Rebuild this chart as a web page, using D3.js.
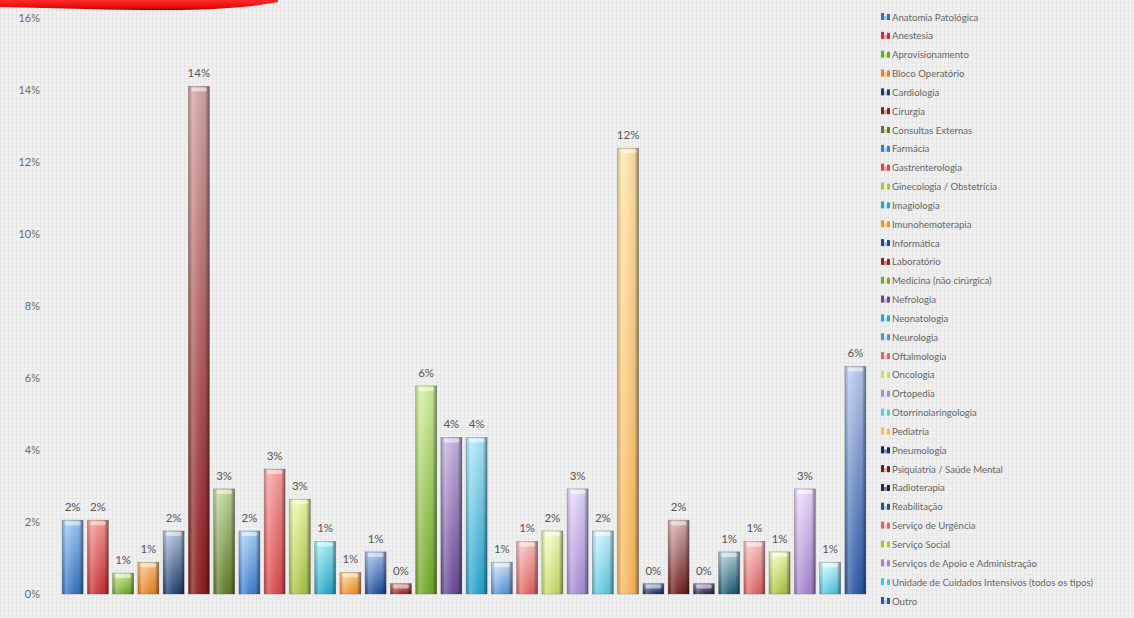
<!DOCTYPE html>
<html>
<head>
<meta charset="utf-8">
<script src="https://cdn.jsdelivr.net/npm/d3@7"></script>
<style>
  html, body { margin: 0; padding: 0; background: #eeeeee; }
  svg { display: block; }
</style>
</head>
<body>
<svg id="chart" width="1134" height="618"></svg>
<script>
// Services (categories)
const categories = [
  "Anatomia Patológica", "Anestesia", "Aprovisionamento", "Bloco Operatório",
  "Cardiologia", "Cirurgia", "Consultas Externas", "Farmácia",
  "Gastrenterologia", "Ginecologia / Obstetrícia", "Imagiologia", "Imunohemoterapia",
  "Informática", "Laboratório", "Medicina (não cirúrgica)", "Nefrologia",
  "Neonatologia", "Neurologia", "Oftalmologia", "Oncologia",
  "Ortopedia", "Otorrinolaringologia", "Pediatria", "Pneumologia",
  "Psiquiatria / Saúde Mental", "Radioterapia", "Reabilitação", "Serviço de Urgência",
  "Serviço Social", "Serviços de Apoio e Administração",
  "Unidade de Cuidados Intensivos (todos os tipos)", "Outro"
];

// Share of responses per service
const shares = [
  0.0205, 0.0205, 0.0058, 0.0088, 0.0175, 0.1410, 0.0292, 0.0175,
  0.0347, 0.0263, 0.0146, 0.0060, 0.0117, 0.0029, 0.0578, 0.0435,
  0.0435, 0.0088, 0.0146, 0.0175, 0.0292, 0.0175, 0.1238, 0.0029,
  0.0205, 0.0029, 0.0117, 0.0146, 0.0117, 0.0292, 0.0088, 0.0632
];

// Y axis ticks
const yTicks = [0, 0.02, 0.04, 0.06, 0.08, 0.10, 0.12, 0.14, 0.16];

// Bar colours: [light top, dark bottom]
const palette = [
  ["#9cc8f4", "#3572c0"], ["#f49a98", "#c83232"], ["#c8ec90", "#6fa828"], ["#fcc488", "#e8801e"],
  ["#b4c4dc", "#1e3c6c"], ["#d4a4a4", "#8c1c1c"], ["#c4d8a0", "#5c7a28"], ["#a8d0f8", "#3c7ccc"],
  ["#f8a4a4", "#d84848"], ["#ecf8a8", "#a8c448"], ["#a8ecf8", "#28a8c8"], ["#fcd090", "#f09030"],
  ["#a8c4f0", "#1e4c98"], ["#d88484", "#902424"], ["#d4f0a0", "#74a82c"], ["#c8b4e0", "#684894"],
  ["#b0e8fa", "#28a4cc"], ["#cce4fc", "#5890d4"], ["#fcc0c0", "#e06464"], ["#f4fcc4", "#c4dc68"],
  ["#e4d8fc", "#a88cd4"], ["#ccf4fc", "#5cc8e0"], ["#fee4a8", "#f8b860"], ["#8898c0", "#1a2a5c"],
  ["#dcb4b4", "#6c1c1c"], ["#8c84a8", "#2c2448"], ["#b4d0dc", "#1e5a70"], ["#fcc4c4", "#dc6464"],
  ["#f0fcb4", "#a8c444"], ["#ecdcfc", "#a484d0"], ["#d0f8fc", "#4cc4dc"], ["#b8ccf0", "#2a58a4"]
];

const svg = d3.select("#chart");
const defs = svg.append("defs");

// Subtle woven background texture
const pat = defs.append("pattern").attr("id", "weave")
  .attr("width", 4).attr("height", 4).attr("patternUnits", "userSpaceOnUse");
pat.append("rect").attr("width", 4).attr("height", 4).attr("fill", "#ededed");
pat.append("rect").attr("width", 4).attr("height", 1).attr("fill", "#f3f3f3");
pat.append("rect").attr("width", 1).attr("height", 4).attr("fill", "#e7e7e7");
svg.append("rect").attr("width", 1134).attr("height", 618).attr("fill", "url(#weave)");

// Red banner swoosh at the top-left
const redGrad = defs.append("linearGradient").attr("id", "banner")
  .attr("x1", 0).attr("y1", 0).attr("x2", 0).attr("y2", 1);
redGrad.append("stop").attr("offset", "0%").attr("stop-color", "#ff2a2a");
redGrad.append("stop").attr("offset", "70%").attr("stop-color", "#e80c0c");
redGrad.append("stop").attr("offset", "100%").attr("stop-color", "#9a0000");
svg.append("path")
  .attr("d", "M0,0 L278,0 L278,2 C262,5 240,8 200,9.5 C150,11 80,9 0,7 Z")
  .attr("fill", "url(#banner)");

const x = d3.scaleBand()
  .domain(categories)
  .range([60, 868])
  .paddingInner(0.17)
  .paddingOuter(0.085);
const y = d3.scaleLinear().domain([0, 0.16]).range([594, 18]);

// Y axis (labels only)
const yAxis = d3.axisLeft(y).tickValues(yTicks).tickFormat(d3.format(".0%")).tickSize(0).tickPadding(0);
const gy = svg.append("g").attr("transform", "translate(40,0)").call(yAxis);
gy.select(".domain").remove();
gy.selectAll("text")
  .attr("fill", "#6a6a6a")
  .style("font-family", "Lato, 'Liberation Sans', sans-serif")
  .style("font-size", "11px");

// Gradients per bar
palette.forEach((c, i) => {
  const g = defs.append("linearGradient").attr("id", "bar" + i)
    .attr("x1", 0).attr("y1", 0).attr("x2", 0).attr("y2", 1);
  g.append("stop").attr("offset", "0%").attr("stop-color", c[0]);
  g.append("stop").attr("offset", "100%").attr("stop-color", c[1]);
});
// Cylindrical side shading shared by all bars
const side = defs.append("linearGradient").attr("id", "side")
  .attr("x1", 0).attr("y1", 0).attr("x2", 1).attr("y2", 0);
side.append("stop").attr("offset", "0%").attr("stop-color", "#000").attr("stop-opacity", 0.12);
side.append("stop").attr("offset", "18%").attr("stop-color", "#fff").attr("stop-opacity", 0.25);
side.append("stop").attr("offset", "45%").attr("stop-color", "#fff").attr("stop-opacity", 0.08);
side.append("stop").attr("offset", "80%").attr("stop-color", "#000").attr("stop-opacity", 0.05);
side.append("stop").attr("offset", "100%").attr("stop-color", "#000").attr("stop-opacity", 0.45);

const bars = svg.append("g").selectAll("g.bar")
  .data(categories.map((c, i) => ({ c, v: shares[i], i })))
  .join("g").attr("class", "bar");

bars.append("rect")
  .attr("x", d => x(d.c))
  .attr("y", d => y(d.v))
  .attr("width", x.bandwidth())
  .attr("height", d => y(0) - y(d.v))
  .attr("fill", d => `url(#bar${d.i})`)
  .attr("stroke", "rgba(60,60,60,0.35)")
  .attr("stroke-width", 0.8);
bars.append("rect")
  .attr("x", d => x(d.c))
  .attr("y", d => y(d.v))
  .attr("width", x.bandwidth())
  .attr("height", d => y(0) - y(d.v))
  .attr("fill", "url(#side)");
// Soft bright cap at the top of each bar
bars.append("rect")
  .attr("x", d => x(d.c) + 2.5)
  .attr("y", d => y(d.v) + 1)
  .attr("width", x.bandwidth() - 5)
  .attr("height", 4)
  .attr("rx", 2)
  .attr("fill", "#fff")
  .attr("opacity", 0.5);

// Value labels
svg.append("g").selectAll("text")
  .data(categories.map((c, i) => ({ c, v: shares[i] })))
  .join("text")
  .attr("x", d => x(d.c) + x.bandwidth() / 2)
  .attr("y", d => y(d.v) - 9)
  .attr("text-anchor", "middle")
  .attr("fill", "#555")
  .style("font-family", "Lato, 'Liberation Sans', sans-serif")
  .style("font-size", "11.5px")
  .text(d => d3.format(".0%")(d.v));

// Legend
const ly = d3.scalePoint().domain(categories).range([17, 601]);
const legend = svg.append("g").selectAll("g")
  .data(categories.map((c, i) => ({ c, i })))
  .join("g")
  .attr("transform", d => `translate(881,${ly(d.c)})`);
legend.append("rect").attr("x", 0).attr("y", -4).attr("width", 3).attr("height", 7)
  .attr("fill", d => palette[d.i][1]);
legend.append("rect").attr("x", 3).attr("y", -1).attr("width", 3).attr("height", 4)
  .attr("fill", d => palette[d.i][0]);
legend.append("rect").attr("x", 6).attr("y", -3).attr("width", 3).attr("height", 6)
  .attr("fill", d => palette[d.i][1]);
legend.append("text")
  .attr("x", 11)
  .attr("y", 3.5)
  .attr("fill", "#666")
  .style("font-family", "Lato, 'Liberation Sans', sans-serif")
  .style("font-size", "9.6px")
  .text(d => d.c);
</script>
</body>
</html>
